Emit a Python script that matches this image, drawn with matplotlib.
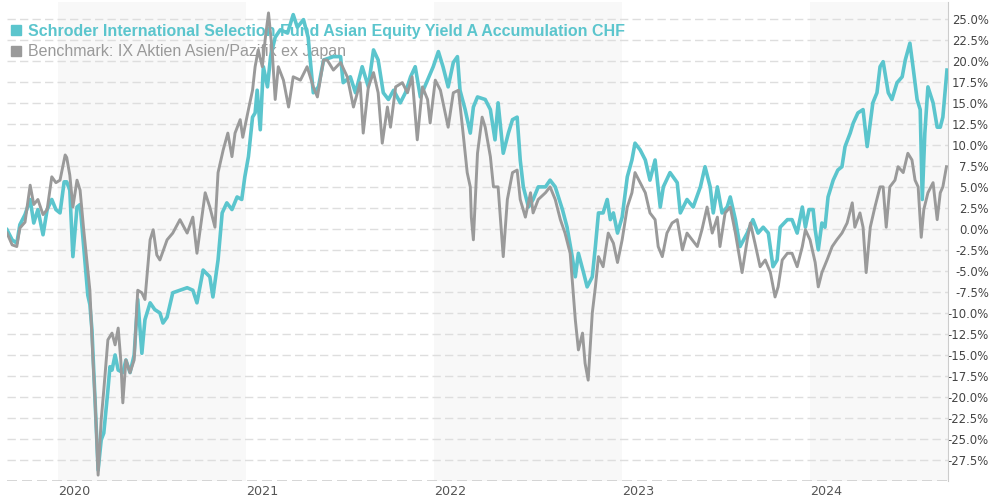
import pandas as pd
import matplotlib
matplotlib.use("Agg")
import matplotlib.pyplot as plt
import matplotlib.dates as mdates
from matplotlib.lines import Line2D

fund_name = "Schroder International Selection Fund Asian Equity Yield A Accumulation CHF"
bench_name = "Benchmark: IX Aktien Asien/Pazifik ex Japan"

fund_dates = [
    "2019-09-24", "2019-10-04", "2019-10-13", "2019-10-19", "2019-10-29", "2019-11-08",
    "2019-11-15", "2019-11-23", "2019-12-03", "2019-12-11", "2019-12-20", "2019-12-28",
    "2020-01-05", "2020-01-13", "2020-01-18", "2020-01-24", "2020-01-30", "2020-02-07",
    "2020-02-13", "2020-02-20", "2020-02-28", "2020-03-03", "2020-03-07", "2020-03-13",
    "2020-03-19", "2020-03-25", "2020-03-30", "2020-04-07", "2020-04-11", "2020-04-15",
    "2020-04-21", "2020-04-27", "2020-05-06", "2020-05-12", "2020-05-20", "2020-05-28",
    "2020-06-04", "2020-06-12", "2020-06-18", "2020-06-28", "2020-07-07", "2020-07-17",
    "2020-07-23", "2020-07-31", "2020-08-11", "2020-08-25", "2020-09-08", "2020-09-19",
    "2020-09-27", "2020-10-09", "2020-10-22", "2020-10-28", "2020-11-07", "2020-11-15",
    "2020-11-24", "2020-12-04", "2020-12-14", "2020-12-23", "2020-12-29",
    "2021-01-05", "2021-01-13", "2021-01-18", "2021-01-22", "2021-01-28", "2021-02-03",
    "2021-02-11", "2021-02-17", "2021-02-26", "2021-03-08", "2021-03-22", "2021-04-02",
    "2021-04-10", "2021-04-22", "2021-05-01", "2021-05-11", "2021-05-21", "2021-05-31",
    "2021-06-19", "2021-07-03", "2021-07-08", "2021-07-22", "2021-08-01", "2021-08-14",
    "2021-08-26", "2021-09-05", "2021-09-14", "2021-09-24", "2021-10-04", "2021-10-14",
    "2021-10-27", "2021-11-06", "2021-11-16", "2021-11-25", "2021-12-05", "2021-12-19",
    "2021-12-30",
    "2022-01-09", "2022-01-18", "2022-01-28", "2022-02-07", "2022-02-15", "2022-02-20",
    "2022-03-02", "2022-03-12", "2022-03-18", "2022-03-26", "2022-04-10", "2022-04-20",
    "2022-04-29", "2022-05-05", "2022-05-15", "2022-05-25", "2022-06-02", "2022-06-11",
    "2022-06-17", "2022-06-23", "2022-07-03", "2022-07-12", "2022-07-22", "2022-08-05",
    "2022-08-14", "2022-08-24", "2022-09-07", "2022-09-16", "2022-09-26", "2022-10-02",
    "2022-10-08", "2022-10-18", "2022-10-25", "2022-11-04", "2022-11-10", "2022-11-16",
    "2022-11-25", "2022-12-03", "2022-12-09", "2022-12-15", "2022-12-23",
    "2023-01-01", "2023-01-11", "2023-01-20", "2023-01-26", "2023-02-05", "2023-02-15",
    "2023-02-24", "2023-03-06", "2023-03-16", "2023-03-22", "2023-04-04", "2023-04-18",
    "2023-04-24", "2023-05-07", "2023-05-19", "2023-06-02", "2023-06-11", "2023-06-21",
    "2023-06-27", "2023-07-05", "2023-07-14", "2023-07-24", "2023-07-30", "2023-08-09",
    "2023-08-18", "2023-09-01", "2023-09-12", "2023-09-22", "2023-10-02", "2023-10-12",
    "2023-10-21", "2023-10-29", "2023-11-04", "2023-11-18", "2023-11-27", "2023-12-07",
    "2023-12-17", "2023-12-23", "2023-12-30",
    "2024-01-07", "2024-01-11", "2024-01-17", "2024-01-24", "2024-01-30", "2024-02-05",
    "2024-02-15", "2024-02-24", "2024-03-03", "2024-03-09", "2024-03-19", "2024-03-25",
    "2024-04-03", "2024-04-13", "2024-04-21", "2024-04-27", "2024-05-02", "2024-05-10",
    "2024-05-16", "2024-05-22", "2024-06-01", "2024-06-08", "2024-06-18", "2024-06-28",
    "2024-07-04", "2024-07-13", "2024-07-19", "2024-07-27", "2024-08-02", "2024-08-06",
    "2024-08-11", "2024-08-17", "2024-08-27", "2024-09-04", "2024-09-10", "2024-09-15",
    "2024-09-23",
]
fund_values = [
    -0.1, -1.3, -1.7, 0.5, 1.7, 3.5, 0.7, 2.3, -0.7, 2.3, 3.5, 2.3,
    1.9, 5.6, 5.6, 4.6, -3.3, 2.6, 2.9, -2.1, -7.9, -9.0,
    -12.0, -20.3, -28.7, -25.1, -24.3, -19.2, -16.4, -16.8, -15.0, -16.8,
    -17.1, -15.6, -17.1, -15.0, -8.4, -14.8, -10.8, -8.8, -9.6, -10.0,
    -11.2, -10.5, -7.6, -7.3, -7.0, -7.3, -8.8, -4.9, -5.7, -8.1,
    -3.7, 1.9, 3.1, 2.3, 3.8, 3.5, 6.2,
    8.6, 13.3, 13.8, 16.5, 11.8, 19.3, 16.9, 20.5, 22.8, 23.7,
    23.3, 25.5, 24.0, 24.9, 22.8, 16.2, 16.9, 20.1, 20.5, 20.5,
    17.4, 18.1, 16.2, 19.3, 16.9, 21.3, 20.1, 16.2, 15.4, 16.5,
    15.0, 16.2, 18.1, 19.3, 15.7, 17.7, 19.3,
    21.1, 19.3, 16.9, 19.8, 20.5, 16.5, 14.2, 11.4, 14.5, 15.7,
    15.4, 14.2, 10.6, 15.0, 9.0, 11.4, 13.0, 13.3, 8.2, 5.0,
    2.6, 3.5, 5.0, 5.0, 5.8, 5.0, 2.3, 0.2, -3.3, -5.7,
    -2.9, -5.2, -6.9, -5.7, -2.1, 1.9, 1.9, 3.5, 1.1, 1.9,
    -0.5,
    1.4, 6.2, 8.2, 10.2, 9.4, 8.2, 5.8, 8.2, 2.6, 5.0,
    6.7, 5.5, 1.9, 3.5, 2.6, 5.0, 7.4, 5.0, 1.9, 5.0,
    1.9, 2.6, 3.8, 1.1, -2.1, -0.5, 1.1, -0.5, 0.2, -0.5,
    -4.5, -3.7, 0.2, 1.1, 1.1, -0.5, 2.6, 0.2, 2.3,
    2.3, -0.1, -2.5, 0.7, 0.2, 3.8, 5.8, 7.0, 7.4, 9.8,
    11.4, 12.6, 13.8, 14.2, 9.8, 12.6, 15.0, 16.2, 19.3, 19.9,
    16.2, 15.4, 17.4, 18.1, 20.1, 22.1, 19.3, 15.4, 14.2, 3.5,
    11.4, 16.9, 15.0, 12.1, 12.1, 13.3, 18.9,
]

bench_dates = [
    "2019-09-24", "2019-10-04", "2019-10-13", "2019-10-19", "2019-10-29", "2019-11-08",
    "2019-11-15", "2019-11-23", "2019-12-03", "2019-12-11", "2019-12-20", "2019-12-28",
    "2020-01-05", "2020-01-15", "2020-01-18", "2020-01-24", "2020-01-30", "2020-02-07",
    "2020-02-13", "2020-02-20", "2020-02-28", "2020-03-03", "2020-03-09", "2020-03-13",
    "2020-03-19", "2020-03-25", "2020-03-30", "2020-04-07", "2020-04-15", "2020-04-21",
    "2020-04-27", "2020-05-02", "2020-05-06", "2020-05-12", "2020-05-20", "2020-05-28",
    "2020-06-04", "2020-06-12", "2020-06-18", "2020-06-28", "2020-07-04", "2020-07-11",
    "2020-07-17", "2020-07-31", "2020-08-11", "2020-08-25", "2020-09-08", "2020-09-19",
    "2020-09-27", "2020-10-13", "2020-10-22", "2020-11-01", "2020-11-07", "2020-11-17",
    "2020-11-26", "2020-12-04", "2020-12-10", "2020-12-20", "2020-12-25",
    "2021-01-05", "2021-01-13", "2021-01-18", "2021-01-24", "2021-02-01", "2021-02-07",
    "2021-02-13", "2021-02-20", "2021-02-26", "2021-03-04", "2021-03-14", "2021-03-24",
    "2021-04-02", "2021-04-16", "2021-04-29", "2021-05-11", "2021-05-19", "2021-05-31",
    "2021-06-07", "2021-06-19", "2021-07-03", "2021-07-16", "2021-07-28", "2021-08-10",
    "2021-08-16", "2021-08-26", "2021-09-05", "2021-09-14", "2021-09-22", "2021-10-02",
    "2021-10-08", "2021-10-18", "2021-10-31", "2021-11-10", "2021-11-19", "2021-11-29",
    "2021-12-09", "2021-12-19", "2021-12-24",
    "2022-01-03", "2022-01-13", "2022-01-28", "2022-02-07", "2022-02-17", "2022-02-26",
    "2022-03-06", "2022-03-12", "2022-03-14", "2022-03-18", "2022-03-26", "2022-04-04",
    "2022-04-10", "2022-04-20", "2022-04-26", "2022-05-05", "2022-05-15", "2022-05-23",
    "2022-06-02", "2022-06-11", "2022-06-17", "2022-06-27", "2022-07-07", "2022-07-12",
    "2022-07-22", "2022-08-05", "2022-08-14", "2022-08-24", "2022-09-03", "2022-09-12",
    "2022-09-22", "2022-10-02", "2022-10-08", "2022-10-16", "2022-10-21", "2022-10-27",
    "2022-11-04", "2022-11-10", "2022-11-16", "2022-11-25", "2022-12-05", "2022-12-15",
    "2022-12-23",
    "2023-01-01", "2023-01-11", "2023-01-20", "2023-01-26", "2023-02-05", "2023-02-15",
    "2023-02-24", "2023-03-06", "2023-03-12", "2023-03-20", "2023-03-29", "2023-04-08",
    "2023-04-18", "2023-04-28", "2023-05-07", "2023-05-17", "2023-05-27", "2023-06-05",
    "2023-06-15", "2023-06-25", "2023-07-05", "2023-07-10", "2023-07-20", "2023-07-30",
    "2023-08-09", "2023-08-18", "2023-08-22", "2023-09-01", "2023-09-07", "2023-09-16",
    "2023-09-26", "2023-10-06", "2023-10-16", "2023-10-25", "2023-10-31", "2023-11-08",
    "2023-11-18", "2023-11-27", "2023-12-07", "2023-12-17", "2023-12-23",
    "2024-01-01", "2024-01-11", "2024-01-17", "2024-01-24", "2024-02-03", "2024-02-13",
    "2024-02-22", "2024-03-03", "2024-03-13", "2024-03-23", "2024-03-28", "2024-04-07",
    "2024-04-13", "2024-04-19", "2024-04-27", "2024-05-06", "2024-05-16", "2024-05-22",
    "2024-05-28", "2024-06-04", "2024-06-14", "2024-06-20", "2024-06-30", "2024-07-09",
    "2024-07-17", "2024-07-23", "2024-07-29", "2024-08-04", "2024-08-09", "2024-08-17",
    "2024-08-27", "2024-09-04", "2024-09-10", "2024-09-15", "2024-09-22",
]
bench_values = [
    -0.5, -1.9, -2.1, 0.1, 0.8, 5.2, 2.9, 3.5, 1.7, 2.3, 6.2, 5.5,
    5.8, 8.8, 8.5, 6.4, 2.6, 5.8, 4.6, -0.1, -4.9, -7.3,
    -15.6, -20.3, -29.3, -22.7, -19.2, -13.2, -12.4, -13.8, -11.8, -15.6,
    -20.7, -15.6, -17.1, -15.6, -7.3, -7.6, -8.4, -1.3, -0.1, -3.1,
    -3.7, -1.3, -0.5, 1.1, -0.5, 1.4, -2.9, 4.3, 2.6, 0.2,
    6.7, 9.4, 11.4, 8.6, 11.4, 13.0, 10.9,
    14.2, 16.5, 19.3, 21.3, 19.3, 22.8, 25.7, 21.3, 15.4, 19.3,
    17.7, 14.5, 18.1, 17.7, 19.3, 16.9, 15.7, 20.1, 20.1, 18.9,
    19.8, 18.1, 14.5, 17.4, 11.4, 16.9, 18.6, 16.2, 10.2, 14.5,
    12.1, 16.9, 17.4, 16.2, 18.1, 10.6, 16.9, 15.4, 12.6,
    17.7, 16.5, 12.1, 16.2, 16.5, 11.4, 6.7, 5.0, 1.4, -1.3,
    9.0, 13.3, 12.1, 8.6, 5.0, 5.0, -3.3, 3.5, 6.7, 7.0,
    3.5, 1.4, 4.3, 1.9, 3.5, 4.3, 5.0, 3.5, 1.1, -0.5,
    -2.9, -10.8, -14.4, -12.4, -16.0, -18.0, -10.0, -6.9, -3.3, -4.5,
    -0.5, -1.7, -4.0,
    -1.3, 2.6, 4.3, 6.7, 5.5, 4.3, 1.9, 1.1, -2.1, -3.3,
    -0.5, 0.7, 1.1, -2.5, -0.5, -1.3, -2.1, -0.1, 2.6, -0.5,
    1.4, -2.1, 1.9, 2.6, -0.5, -3.7, -5.2, -1.3, 0.7, -1.7,
    -4.5, -3.7, -5.2, -8.1, -6.9, -3.7, -2.9, -2.9, -4.5, -2.1,
    -0.1,
    -1.3, -4.0, -6.9, -5.2, -3.7, -2.1, -1.3, -0.5, 0.7, 3.1,
    0.2, 1.9, 0.2, -5.2, 0.2, 2.6, 5.0, 5.0, 0.2, 5.0,
    5.8, 7.4, 6.7, 9.0, 8.2, 5.8, 5.0, -1.0, 2.3, 4.3,
    5.5, 1.1, 4.3, 5.0, 7.4,
]

shaded_years = [2020, 2022, 2024]
tick_years = [2020, 2021, 2022, 2023, 2024]
y_ticks = [-27.5 + 2.5 * i for i in range(22)]

fund_color = "#5bc5cd"
bench_color = "#9a9a9a"

fund_x = pd.to_datetime(fund_dates)
bench_x = pd.to_datetime(bench_dates)
x_start = fund_x[0]
x_end = pd.Timestamp("2024-09-25")

fig = plt.figure(figsize=(9.9, 5.0), dpi=100)
ax = fig.add_axes([7 / 990, 1 - 481 / 500, (948 - 7) / 990, (481 - 2) / 500])

# abwechselnde Jahreshintergründe
for yr in shaded_years:
    ax.axvspan(pd.Timestamp(f"{yr}-01-01"), min(pd.Timestamp(f"{yr + 1}-01-01"), x_end),
               color="#f8f8f8", zorder=0, lw=0)

for yv in y_ticks:
    ax.axhline(yv, color="#dedede", lw=1, ls=(0, (6, 3)), zorder=1)
ax.axhline(-30, color="#cfcfcf", lw=1.2, ls=(0, (6, 3)), zorder=1)

ax.plot(fund_x, fund_values, color=fund_color, lw=2.6, solid_joinstyle="round", zorder=4)
ax.plot(bench_x, bench_values, color=bench_color, lw=2.1, solid_joinstyle="round", zorder=5)

ax.set_xlim(x_start, x_end)
ax.set_ylim(-30, 27.0)

ax.set_yticks(y_ticks)
ax.set_yticklabels([f"{v:.1f}%" for v in y_ticks])
ax.yaxis.tick_right()
ax.tick_params(axis="y", length=0, pad=29.5, labelsize=8.4, labelcolor="#444444")
for lab in ax.get_yticklabels():
    lab.set_horizontalalignment("right")
    lab.set_fontfamily("DejaVu Sans")

ax.set_xticks([pd.Timestamp(f"{y}-01-01") for y in tick_years])
ax.xaxis.set_major_formatter(mdates.DateFormatter("%Y"))
ax.tick_params(axis="x", length=0, pad=3, labelsize=9.2, labelcolor="#555555")
for lab in ax.get_xticklabels():
    lab.set_horizontalalignment("left")

for side in ["left", "top", "bottom"]:
    ax.spines[side].set_visible(False)
ax.spines["right"].set_color("#cccccc")
ax.set_facecolor("white")

handles = [
    Line2D([], [], marker="s", ls="none", color=fund_color, markersize=7),
    Line2D([], [], marker="s", ls="none", color=bench_color, markersize=7),
]
leg = ax.legend(handles, [fund_name, bench_name], loc="upper left",
                bbox_to_anchor=(10 / 990, 1 - 24 / 500), bbox_transform=fig.transFigure,
                frameon=False, borderpad=0, borderaxespad=0, handlelength=0.7,
                handletextpad=0.4, labelspacing=0.32,
                prop={"family": "Liberation Sans", "size": 11.5})
leg.set_zorder(2)
t1, t2 = leg.get_texts()
t1.set_color(fund_color)
t1.set_fontweight("bold")
t2.set_color(bench_color)

fig.savefig("out.png", dpi=100)
